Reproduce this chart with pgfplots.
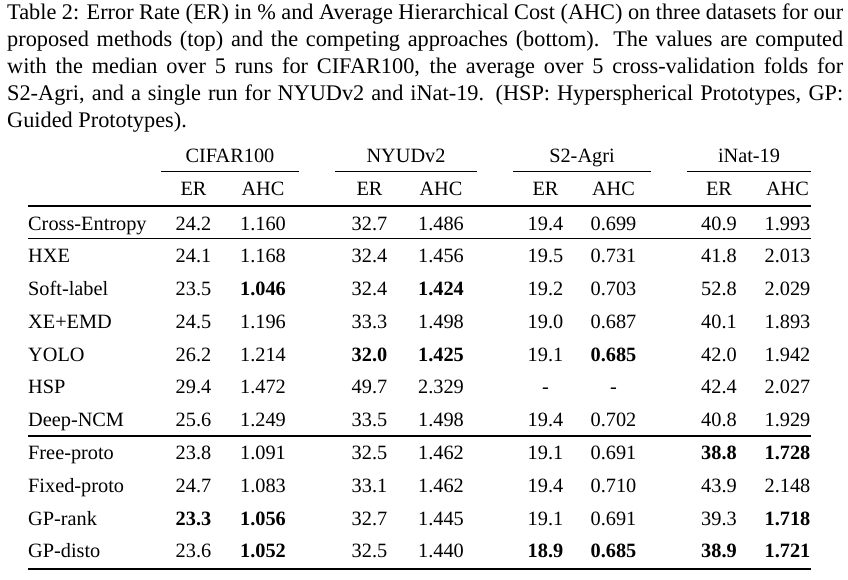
\documentclass[border=0pt]{standalone}
\usepackage{pgfplots}
\pgfplotsset{compat=1.18}
\usepackage{pgfplotstable}
\usepackage{fontspec}
\setmainfont{Liberation Serif}
\newcommand\fs{\fontsize{20.3}{24}\selectfont}
\newcommand\capfs{\fontsize{22.3}{27}\selectfont}

\pgfplotstableread{
y name cer cahc ner nahc ser sahc ier iahc
230.0 Cross-Entropy 24.2 1.160 32.7 1.486 19.4 0.699 40.9 1.993
262.8 HXE 24.1 1.168 32.4 1.456 19.5 0.731 41.8 2.013
295.5 Soft-label 23.5 \textbf{1.046} 32.4 \textbf{1.424} 19.2 0.703 52.8 2.029
328.3 XE+EMD 24.5 1.196 33.3 1.498 19.0 0.687 40.1 1.893
361.1 YOLO 26.2 1.214 \textbf{32.0} \textbf{1.425} 19.1 \textbf{0.685} 42.0 1.942
393.9 HSP 29.4 1.472 49.7 2.329 - - 42.4 2.027
426.6 Deep-NCM 25.6 1.249 33.5 1.498 19.4 0.702 40.8 1.929
459.4 Free-proto 23.8 1.091 32.5 1.462 19.1 0.691 \textbf{38.8} \textbf{1.728}
492.2 Fixed-proto 24.7 1.083 33.1 1.462 19.4 0.710 43.9 2.148
525.0 GP-rank \textbf{23.3} \textbf{1.056} 32.7 1.445 19.1 0.691 39.3 \textbf{1.718}
557.7 GP-disto 23.6 \textbf{1.052} 32.5 1.440 \textbf{18.9} \textbf{0.685} \textbf{38.9} \textbf{1.721}
}\tbl

\pgfplotsset{
  cell/.style={draw=none, mark=none, point meta=explicit symbolic,
    nodes near coords={\pgfplotspointmeta},
    every node near coord/.append style={anchor=base, inner sep=0pt, font=\fs, text=black}},
  lcell/.style={cell, every node near coord/.append style={anchor=base west}},
}
\tikzset{txt/.style={anchor=base, inner sep=0pt, font=\fs},
  captxt/.style={anchor=base west, inner sep=0pt, font=\capfs}}

\begin{document}
\begin{tikzpicture}
\begin{axis}[width=848pt, height=579pt, scale only axis,
  xmin=0, xmax=848, ymin=0, ymax=579, y dir=reverse,
  hide axis, clip=false]
\path (axis cs:0,0) rectangle (axis cs:848,579);

% caption
\node[captxt] at (axis cs:7,19)
  {\makebox[836pt][s]{Table 2: Error Rate (ER) in \% and Average Hierarchical Cost (AHC) on three datasets for our}};
\node[captxt] at (axis cs:7,46)
  {\makebox[836pt][s]{proposed methods (top) and the competing approaches (bottom). The values are computed}};
\node[captxt] at (axis cs:7,73)
  {\makebox[836pt][s]{with the median over 5 runs for CIFAR100, the average over 5 cross-validation folds for}};
\node[captxt] at (axis cs:7,100)
  {\makebox[836pt][s]{S2-Agri, and a single run for NYUDv2 and iNat-19. (HSP: Hyperspherical Prototypes, GP:}};
\node[captxt] at (axis cs:7,127)
  {Guided Prototypes).};

% headers
\node[txt] at (axis cs:230,162.3) {CIFAR100};
\node[txt] at (axis cs:406,162.3) {NYUDv2};
\node[txt] at (axis cs:582,162.3) {S2-Agri};
\node[txt] at (axis cs:749,162.3) {iNat-19};
\draw[line width=1.1pt] (axis cs:161,171.7) -- (axis cs:299,171.7);
\draw[line width=1.1pt] (axis cs:335,171.7) -- (axis cs:477,171.7);
\draw[line width=1.1pt] (axis cs:513,171.7) -- (axis cs:651,171.7);
\draw[line width=1.1pt] (axis cs:687,171.7) -- (axis cs:811,171.7);
\node[txt] at (axis cs:193.5,195) {ER};
\node[txt] at (axis cs:263,195) {AHC};
\node[txt] at (axis cs:369.5,195) {ER};
\node[txt] at (axis cs:441,195) {AHC};
\node[txt] at (axis cs:545.5,195) {ER};
\node[txt] at (axis cs:613.5,195) {AHC};
\node[txt] at (axis cs:719,195) {ER};
\node[txt] at (axis cs:787.5,195) {AHC};

% rules
\draw[line width=2.1pt] (axis cs:28,206) -- (axis cs:811,206);
\draw[line width=1.2pt] (axis cs:28,238.3) -- (axis cs:811,238.3);
\draw[line width=1.2pt] (axis cs:28,436) -- (axis cs:811,436);
\draw[line width=2.1pt] (axis cs:28,568.7) -- (axis cs:811,568.7);

% body
\addplot[lcell] table[x expr=28, y=y, meta=name] {\tbl};
\addplot[cell] table[x expr=193.5, y=y, meta=cer] {\tbl};
\addplot[cell] table[x expr=263, y=y, meta=cahc] {\tbl};
\addplot[cell] table[x expr=369.5, y=y, meta=ner] {\tbl};
\addplot[cell] table[x expr=441, y=y, meta=nahc] {\tbl};
\addplot[cell] table[x expr=545.5, y=y, meta=ser] {\tbl};
\addplot[cell] table[x expr=613.5, y=y, meta=sahc] {\tbl};
\addplot[cell] table[x expr=719, y=y, meta=ier] {\tbl};
\addplot[cell] table[x expr=787.5, y=y, meta=iahc] {\tbl};
\end{axis}
\end{tikzpicture}
\end{document}
